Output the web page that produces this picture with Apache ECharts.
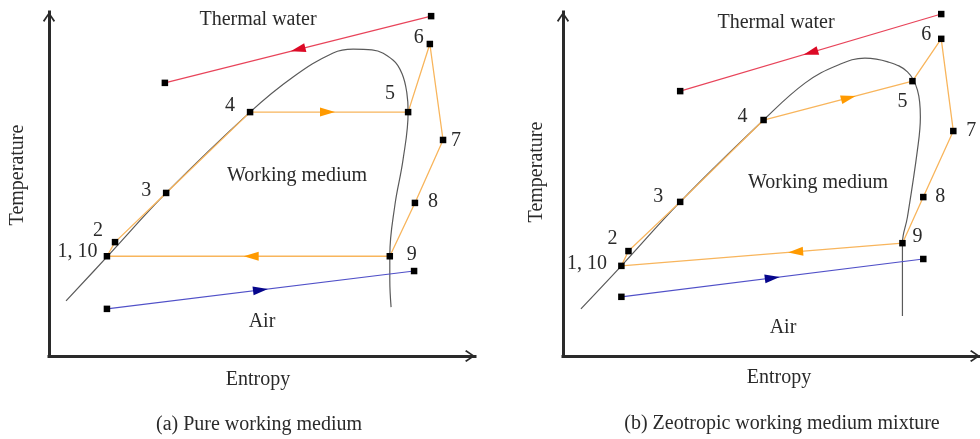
<!DOCTYPE html>
<html>
<head>
<meta charset="utf-8">
<script src="https://cdn.jsdelivr.net/npm/echarts@6/dist/echarts.min.js"></script>
<style>
  html, body { margin: 0; padding: 0; background: #fff; }
  #chart { width: 980px; height: 439px; }
</style>
</head>
<body>
<div id="chart"></div>
<script>
// T-s diagrams of the ORC cycle, entropy / temperature in relative units (0-100)
const stateNames = ['1, 10', '2', '3', '4', '5', '6', '7', '8', '9'];

// (a) pure working medium
const statesA = [[13.6, 29.0], [15.5, 33.1], [27.5, 47.4], [47.2, 70.9], [84.3, 70.9],
                 [89.4, 90.7], [92.5, 62.8], [85.9, 44.5], [80.0, 29.0]];
const domeA = [[4.0, 16.0], [13.6, 28.8], [27.5, 47.4], [47.2, 70.9], [57.3, 81.1],
               [66.7, 88.1], [71.4, 89.2], [75.8, 89.0], [80.8, 86.0], [82.9, 82.0], [84.0, 76.5],
               [84.3, 70.9], [83.1, 57.0], [81.2, 43.9], [80.0, 29.1], [80.0, 22.1], [80.3, 14.2]];
const waterA = [[27.2, 79.4], [89.7, 98.8]];
const airA = [[13.6, 13.7], [85.7, 24.7]];

// (b) zeotropic working medium mixture
const statesB = [[14.0, 26.2], [15.7, 30.5], [28.1, 44.8], [48.1, 68.6], [83.8, 79.9],
                 [90.7, 92.2], [93.6, 65.4], [86.4, 46.2], [81.4, 32.8]];
const domeB = [[4.3, 13.7], [14.0, 26.2], [28.1, 44.8], [48.1, 68.6], [58.1, 79.4],
               [66.0, 84.6], [72.4, 86.6], [77.9, 85.5], [82.6, 82.6], [85.0, 77.3],
               [85.7, 69.5], [85.0, 59.9], [82.6, 40.4], [81.4, 32.8], [81.4, 22.1], [81.4, 11.6]];
const waterB = [[28.1, 77.0], [90.7, 99.4]];
const airB = [[14.0, 17.2], [86.4, 28.2]];

// where along each segment the flow-direction arrowhead sits (0 = start, 1 = end)
const arrowPosA = { water: 0.5, evap: 0.49, cond: 0.49, air: 0.5 };
const arrowPosB = { water: 0.5, evap: 0.57, cond: 0.38, air: 0.5 };

// label placement for the state-point numbers (pixel offsets from the marker)
const labelOffsetA = [[-29.5, -4], [-17, -11], [-20, -2], [-20, -6], [-18, -18], [-11, -6], [13, 1], [18, -1], [22, -1]];
const labelOffsetB = [[-34.5, -2], [-16, -12], [-22, -5], [-21, -3], [-10, 21], [-15, -4], [18, 0], [17, 0], [15, -6]];

const FONT = 'Liberation Serif';
const TEXT_COLOR = '#2a2a2a';
const C = {
  dome: '#5a5a5a', cycle: '#F8B55C', cycleArrow: '#FF9A00',
  water: '#E8445A', waterArrow: '#DC0A26', air: '#5050C8', airArrow: '#06068C'
};

// open chevron used as the axis arrowhead (points up, rotated by the axis)
const chevron = 'path://M7,0 L14,10 L12.4,11.5 L7,3.2 L1.6,11.5 L0,10 Z';

function axis(gridIndex) {
  return {
    type: 'value', gridIndex, min: 0, max: 100,
    axisLine: {
      show: true,
      lineStyle: { color: '#2a2a2a', width: 3, cap: 'square' },
      symbol: ['none', chevron], symbolSize: [13, 10], symbolOffset: [0, -5]
    },
    axisTick: { show: false }, axisLabel: { show: false }, splitLine: { show: false }
  };
}

function panelSeries(i, states, dome, water, air, pos, offsets) {
  const line = (data, color, width, z, smooth) => ({
    type: 'line', xAxisIndex: i, yAxisIndex: i, data, smooth: smooth || false,
    symbol: 'none', lineStyle: { color, width }, z, silent: true
  });
  const markers = states.map((v, k) => ({
    name: stateNames[k], value: v,
    label: { show: true, offset: offsets[k] }
  })).concat([water[0], water[1], air[0], air[1]].map(v => ({ name: '', value: v })));

  const arrows = [
    { value: [water[1][0], water[1][1], water[0][0], water[0][1], pos.water], itemStyle: { color: C.waterArrow } },
    { value: [states[3][0], states[3][1], states[4][0], states[4][1], pos.evap], itemStyle: { color: C.cycleArrow } },
    { value: [states[8][0], states[8][1], states[0][0], states[0][1], pos.cond], itemStyle: { color: C.cycleArrow } },
    { value: [air[0][0], air[0][1], air[1][0], air[1][1], pos.air], itemStyle: { color: C.airArrow } }
  ];

  return [
    line(dome, C.dome, 1.2, 2, 0.4),
    line(states.concat([states[0]]), C.cycle, 1.3, 3),
    line(water, C.water, 1.1, 3),
    line(air, C.air, 1.1, 3),
    {
      type: 'scatter', xAxisIndex: i, yAxisIndex: i, data: markers, z: 5, silent: true,
      symbol: 'rect', symbolSize: 6.5, itemStyle: { color: '#000', opacity: 1 },
      label: {
        position: 'inside', formatter: '{b}', color: TEXT_COLOR,
        fontFamily: FONT, fontSize: 20
      }
    },
    {
      type: 'custom', xAxisIndex: i, yAxisIndex: i, data: arrows, z: 6, silent: true,
      renderItem(params, api) {
        const p1 = api.coord([api.value(0), api.value(1)]);
        const p2 = api.coord([api.value(2), api.value(3)]);
        const t = api.value(4);
        const dx = p2[0] - p1[0], dy = p2[1] - p1[1];
        const len = Math.hypot(dx, dy);
        const ux = dx / len, uy = dy / len;
        const cx = p1[0] + dx * t, cy = p1[1] + dy * t;
        const L = 15, W = 9;
        const bx = cx - ux * L / 2, by = cy - uy * L / 2;
        return {
          type: 'polygon',
          shape: { points: [
            [cx + ux * L / 2, cy + uy * L / 2],
            [bx - uy * W / 2, by + ux * W / 2],
            [bx + uy * W / 2, by - ux * W / 2]
          ] },
          style: { fill: api.visual('color') }
        };
      }
    }
  ];
}

function text(str, x, y, rotation) {
  return {
    type: 'text', x, y, rotation: rotation || 0, silent: true,
    style: {
      text: str, fill: TEXT_COLOR, font: '20px "' + FONT + '"',
      textAlign: 'center', textVerticalAlign: 'middle'
    }
  };
}

const chart = echarts.init(document.getElementById('chart'), null, { renderer: 'canvas' });
chart.setOption({
  animation: false,
  backgroundColor: '#fff',
  grid: [
    { left: 49, top: 12, width: 426, height: 344 },
    { left: 563, top: 12, width: 420, height: 344 }
  ],
  xAxis: [axis(0), axis(1)],
  yAxis: [axis(0), axis(1)],
  series: [].concat(
    panelSeries(0, statesA, domeA, waterA, airA, arrowPosA, labelOffsetA),
    panelSeries(1, statesB, domeB, waterB, airB, arrowPosB, labelOffsetB)
  ),
  graphic: [
    text('Thermal water', 258, 20),
    text('Working medium', 297, 176),
    text('Air', 262, 322),
    text('Entropy', 258, 380),
    text('Temperature', 18, 175, Math.PI / 2),
    text('(a) Pure working medium', 259, 425),
    text('Thermal water', 776, 23),
    text('Working medium', 818, 183),
    text('Air', 783, 328),
    text('Entropy', 779, 378),
    text('Temperature', 537, 172, Math.PI / 2),
    text('(b) Zeotropic working medium mixture', 782, 424)
  ]
});
</script>
</body>
</html>
